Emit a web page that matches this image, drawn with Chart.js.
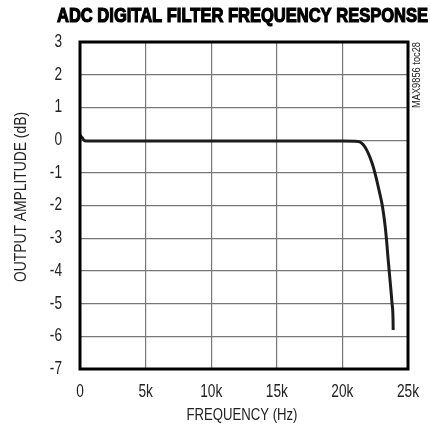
<!DOCTYPE html>
<html>
<head>
<meta charset="utf-8">
<script src="https://cdn.jsdelivr.net/npm/chart.js@4/dist/chart.umd.min.js"></script>
<style>
  html, body { margin: 0; padding: 0; background: #fff; }
</style>
</head>
<body>
<canvas id="c" width="430" height="431"></canvas>
<script>
// ---- data ----
const titleText = "ADC DIGITAL FILTER FREQUENCY RESPONSE";
const xAxisTitle = "FREQUENCY (Hz)";
const yAxisTitle = "OUTPUT AMPLITUDE (dB)";
const sideNote = "MAX9856 toc28";
const xTicks = [0, 5000, 10000, 15000, 20000, 25000];
const xTickLabels = ["0", "5k", "10k", "15k", "20k", "25k"];
const yTicks = [3, 2, 1, 0, -1, -2, -3, -4, -5, -6, -7];
const freqHz = [0, 150, 350, 800, 3000, 8000, 12000, 16000, 20000, 21190, 21720, 22260, 22560, 22790, 23050, 23250, 23400, 23480, 23630, 23780, 23860, 23870];
const gainDb = [0.15, 0.08, -0.02, -0.03, -0.03, -0.03, -0.03, -0.03, -0.03, -0.04, -0.21, -0.70, -1.13, -1.53, -2.02, -2.60, -3.22, -3.62, -4.28, -4.98, -5.50, -5.81];

const FONT = "'Liberation Sans', Arial, sans-serif";
const COND = 0.76;   // horizontal condensing of the condensed lettering
const points = freqHz.map((f, i) => ({ x: f, y: gainDb[i] }));

function txt(ctx, s, x, y, opt) {
  ctx.save();
  ctx.font = opt.font;
  ctx.fillStyle = opt.color || '#222';
  ctx.strokeStyle = opt.color || '#222';
  ctx.textBaseline = opt.baseline || 'middle';
  ctx.textAlign = opt.align || 'center';
  ctx.translate(x, y);
  if (opt.rotate) ctx.rotate(opt.rotate);
  let sx = opt.sx || COND;
  if (opt.width) sx = opt.width / ctx.measureText(s).width;
  ctx.scale(sx, 1);
  ctx.fillText(s, 0, 0);
  if (opt.heavy) { ctx.lineWidth = opt.heavy; ctx.strokeText(s, 0, 0); }
  ctx.restore();
}

const decor = {
  id: 'decor',
  afterDatasetsDraw(chart) {
    const { ctx, chartArea: a } = chart;
    const xs = chart.scales.x, ys = chart.scales.y;
    ctx.save();
    ctx.strokeStyle = '#000';
    ctx.lineWidth = 3;
    ctx.strokeRect(a.left, a.top, a.right - a.left, a.bottom - a.top);
    ctx.restore();
    xTicks.forEach((v, i) => txt(ctx, xTickLabels[i], xs.getPixelForValue(v), a.bottom + 23,
      { font: '18px ' + FONT }));
    yTicks.forEach(v => txt(ctx, String(v), a.left - 18, ys.getPixelForValue(v),
      { font: '18px ' + FONT, align: 'right' }));
    txt(ctx, xAxisTitle, (a.left + a.right) / 2 - 2, a.bottom + 46, { font: '17px ' + FONT, width: 111 });
    txt(ctx, yAxisTitle, 21, 197, { font: '17px ' + FONT, width: 170, rotate: -Math.PI / 2 });
    txt(ctx, titleText, 242.5, 22, { font: 'bold 20px ' + FONT, width: 371, baseline: 'alphabetic', color: '#000', heavy: 1.2 });
    txt(ctx, sideNote, a.right + 9, a.top + 33, { font: '10px ' + FONT, width: 66, rotate: -Math.PI / 2 });
  }
};

new Chart(document.getElementById('c'), {
  type: 'line',
  data: {
    datasets: [{
      data: points,
      borderColor: '#1c1c1c',
      borderWidth: 3,
      pointRadius: 0,
      cubicInterpolationMode: 'monotone',
      fill: false
    }]
  },
  options: {
    responsive: false,
    animation: false,
    layout: { padding: { left: 0, right: 22, top: 42, bottom: 0 } },
    plugins: {
      legend: { display: false },
      tooltip: { enabled: false },
      title: { display: false }
    },
    scales: {
      x: {
        type: 'linear',
        min: 0, max: 25000,
        afterBuildTicks(s) { s.ticks = xTicks.map(v => ({ value: v })); },
        afterFit(s) { s.height = 62; },
        ticks: { display: false },
        grid: { color: '#777', lineWidth: 1.2, drawTicks: false },
        border: { display: false },
        title: { display: false }
      },
      y: {
        type: 'linear',
        min: -7, max: 3,
        afterBuildTicks(s) { s.ticks = yTicks.map(v => ({ value: v })); },
        afterFit(s) { s.width = 80; },
        ticks: { display: false },
        grid: { color: '#777', lineWidth: 1.2, drawTicks: false },
        border: { display: false },
        title: { display: false }
      }
    }
  },
  plugins: [decor]
});
</script>
</body>
</html>
